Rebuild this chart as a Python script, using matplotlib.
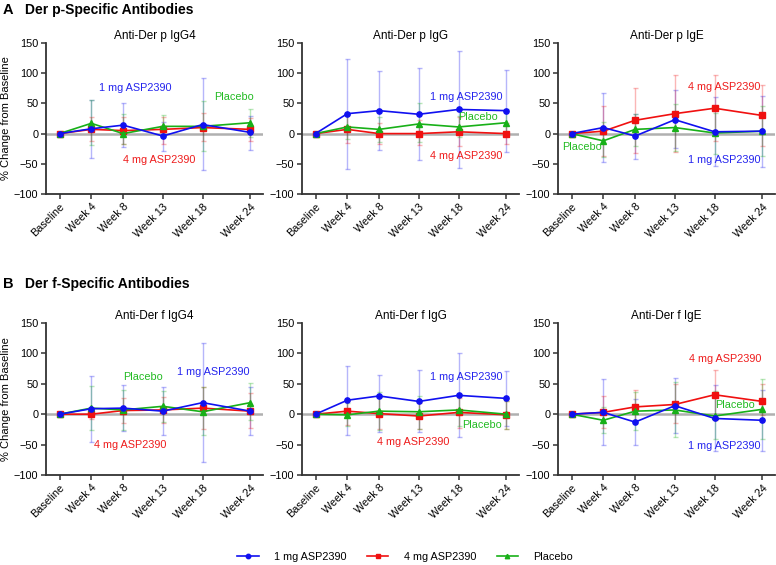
import matplotlib
matplotlib.use("Agg")
import matplotlib.pyplot as plt
import numpy as np

plt.rcParams['font.family'] = ['Liberation Sans', 'DejaVu Sans']

weeks = [0, 4, 8, 13, 18, 24]
tick_labels = ["Baseline", "Week 4", "Week 8", "Week 13", "Week 18", "Week 24"]
series_names = ["1 mg ASP2390", "4 mg ASP2390", "Placebo"]

titles = ["Anti-Der p IgG4", "Anti-Der p IgG", "Anti-Der p IgE",
          "Anti-Der f IgG4", "Anti-Der f IgG", "Anti-Der f IgE"]

# mean, upper, lower per panel (order: 1 mg, 4 mg, placebo)
p_igg4_1mg = [0, 8, 14, -4, 15, 2]
p_igg4_1mg_hi = [0, 56, 50, 19, 92, 29]
p_igg4_1mg_lo = [0, -41, -22, -28, -60, -27]
p_igg4_4mg = [0, 7, 5, 7, 10, 7]
p_igg4_4mg_hi = [0, 28, 28, 27, 34, 26]
p_igg4_4mg_lo = [0, -13, -18, -18, -13, -13]
p_igg4_pl = [0, 17, 0, 12, 12, 18]
p_igg4_pl_hi = [0, 55, 33, 30, 54, 41]
p_igg4_pl_lo = [0, -19, -17, -4, -29, -5]

p_igg_1mg = [0, 33, 38, 32, 40, 38]
p_igg_1mg_hi = [0, 124, 103, 108, 137, 106]
p_igg_1mg_lo = [0, -58, -27, -43, -57, -30]
p_igg_4mg = [0, 7, 0, 0, 3, 0]
p_igg_4mg_hi = [0, 30, 18, 22, 28, 18]
p_igg_4mg_lo = [0, -16, -18, -19, -21, -18]
p_igg_pl = [0, 11, 7, 16, 11, 18]
p_igg_pl_hi = [0, 32, 28, 50, 29, 41]
p_igg_pl_lo = [0, -9, -14, -14, -6, -4]

p_ige_1mg = [0, 10, -4, 23, 3, 4]
p_ige_1mg_hi = [0, 67, 33, 72, 60, 62]
p_ige_1mg_lo = [0, -47, -42, -24, -53, -55]
p_ige_4mg = [0, 4, 22, 33, 42, 30]
p_ige_4mg_hi = [0, 46, 76, 97, 97, 80]
p_ige_4mg_lo = [0, -37, -32, -30, -12, -20]
p_ige_pl = [0, -12, 7, 10, 1, 4]
p_ige_pl_hi = [0, 19, 33, 49, 34, 46]
p_ige_pl_lo = [0, -38, -21, -28, -33, -37]

f_igg4_1mg = [0, 9, 10, 5, 19, 5]
f_igg4_1mg_hi = [0, 63, 48, 45, 117, 45]
f_igg4_1mg_lo = [0, -46, -28, -35, -78, -34]
f_igg4_4mg = [0, 0, 6, 7, 10, 5]
f_igg4_4mg_hi = [0, 10, 27, 28, 45, 35]
f_igg4_4mg_lo = [0, -8, -15, -15, -24, -23]
f_igg4_pl = [0, 10, 7, 13, 4, 19]
f_igg4_pl_hi = [0, 47, 40, 38, 44, 51]
f_igg4_pl_lo = [0, -26, -26, -13, -34, -10]

f_igg_1mg = [0, 23, 30, 21, 31, 26]
f_igg_1mg_hi = [0, 80, 64, 73, 101, 71]
f_igg_1mg_lo = [0, -34, -30, -30, -38, -20]
f_igg_4mg = [0, 5, 1, -3, 3, -1]
f_igg_4mg_hi = [0, 21, 29, 18, 26, 22]
f_igg_4mg_lo = [0, -18, -24, -24, -22, -24]
f_igg_pl = [0, -1, 5, 4, 7, 0]
f_igg_pl_hi = [0, 19, 36, 30, 33, 22]
f_igg_pl_lo = [0, -20, -26, -25, -19, -24]

f_ige_1mg = [0, 3, -13, 14, -7, -10]
f_ige_1mg_hi = [0, 58, 25, 59, 48, 40]
f_ige_1mg_lo = [0, -50, -50, -31, -61, -61]
f_ige_4mg = [0, 3, 12, 16, 32, 21]
f_ige_4mg_hi = [0, 30, 40, 50, 73, 50]
f_ige_4mg_lo = [0, -23, -15, -15, -10, -1]
f_ige_pl = [0, -10, 5, 7, -3, 8]
f_ige_pl_hi = [0, 12, 37, 53, 38, 58]
f_ige_pl_lo = [0, -31, -26, -38, -40, -40]

panels = [
    [(p_igg4_1mg, p_igg4_1mg_hi, p_igg4_1mg_lo), (p_igg4_4mg, p_igg4_4mg_hi, p_igg4_4mg_lo), (p_igg4_pl, p_igg4_pl_hi, p_igg4_pl_lo)],
    [(p_igg_1mg, p_igg_1mg_hi, p_igg_1mg_lo), (p_igg_4mg, p_igg_4mg_hi, p_igg_4mg_lo), (p_igg_pl, p_igg_pl_hi, p_igg_pl_lo)],
    [(p_ige_1mg, p_ige_1mg_hi, p_ige_1mg_lo), (p_ige_4mg, p_ige_4mg_hi, p_ige_4mg_lo), (p_ige_pl, p_ige_pl_hi, p_ige_pl_lo)],
    [(f_igg4_1mg, f_igg4_1mg_hi, f_igg4_1mg_lo), (f_igg4_4mg, f_igg4_4mg_hi, f_igg4_4mg_lo), (f_igg4_pl, f_igg4_pl_hi, f_igg4_pl_lo)],
    [(f_igg_1mg, f_igg_1mg_hi, f_igg_1mg_lo), (f_igg_4mg, f_igg_4mg_hi, f_igg_4mg_lo), (f_igg_pl, f_igg_pl_hi, f_igg_pl_lo)],
    [(f_ige_1mg, f_ige_1mg_hi, f_ige_1mg_lo), (f_ige_4mg, f_ige_4mg_hi, f_ige_4mg_lo), (f_ige_pl, f_ige_pl_hi, f_ige_pl_lo)],
]

# label positions per panel: (x, y) for 1 mg, 4 mg, placebo
label_pos = [
    [(9.5, 76), (12.6, -44), (22, 60)],
    [(19.0, 61), (19.0, -37), (20.5, 27)],
    [(19.2, -43), (19.2, 77), (1.3, -23)],
    [(19.3, 69), (8.9, -51), (10.5, 62)],
    [(19.0, 62), (12.3, -46), (21.0, -18)],
    [(19.2, -52), (19.3, 90), (20.6, 15)],
]

line_colors = ["#1010F0", "#F01010", "#18B018"]
text_colors = ["#2424EE", "#EE1C1C", "#22BB22"]
markers = ["o", "s", "^"]
msizes = [3.8, 3.8, 3.8]

fig = plt.figure(figsize=(7.76, 5.65), dpi=100)
W, H = 776, 565
lefts = [46, 302, 558]
tops = [43, 323]
bottoms = [194, 475]
aw = 217

axes = []
for r in range(2):
    for c in range(3):
        ax = fig.add_axes([lefts[c] / W, 1 - bottoms[r] / H, aw / W, (bottoms[r] - tops[r]) / H])
        axes.append(ax)

for i, ax in enumerate(axes):
    ax.axhline(0, color="#b0b0b0", lw=1.8, zorder=1)
    for s, (mean, hi, lo) in enumerate(panels[i]):
        mean = np.array(mean, float)
        hi = np.array(hi, float)
        lo = np.array(lo, float)
        yerr = np.vstack([mean - lo, hi - mean])
        ax.errorbar(weeks[1:], mean[1:], yerr=yerr[:, 1:], fmt="none",
                    ecolor=line_colors[s], alpha=0.3, elinewidth=1.0, capsize=1.8,
                    capthick=1.0, zorder=2)
        ax.plot(weeks, mean, color=line_colors[s], lw=1.2, marker=markers[s],
                ms=msizes[s], zorder=3.5 if s == 0 else 3)
        lx, ly = label_pos[i][s]
        ax.text(lx, ly, series_names[s], color=text_colors[s],
                fontsize=7.8, ha="center", va="center")
    ax.set_xlim(-1.7, 25.6)
    ax.set_ylim(-100, 150)
    ax.set_yticks([-100, -50, 0, 50, 100, 150])
    ax.set_xticks(weeks)
    ax.set_xticklabels(tick_labels, rotation=45, ha="right", rotation_mode="anchor")
    ax.spines["top"].set_visible(False)
    ax.spines["right"].set_visible(False)
    for sp in ("left", "bottom"):
        ax.spines[sp].set_linewidth(1.3)
        ax.spines[sp].set_color("#333333")
    ax.tick_params(axis="both", labelsize=7.8, width=1.1, length=3.5, color="#333333",
                   direction="out", pad=2)
    ax.set_title(titles[i], fontsize=8.5, pad=3)
    if i % 3 == 0:
        ax.set_ylabel("% Change from Baseline", fontsize=8.0, labelpad=2)

fig.text(3 / W, 1 - 10 / H, "A", fontsize=10.5, fontweight="bold", va="center", ha="left")
fig.text(25 / W, 1 - 10 / H, "Der p-Specific Antibodies", fontsize=10, fontweight="bold",
         va="center", ha="left")
fig.text(3 / W, 1 - 284 / H, "B", fontsize=10.5, fontweight="bold", va="center", ha="left")
fig.text(25 / W, 1 - 284 / H, "Der f-Specific Antibodies", fontsize=10, fontweight="bold",
         va="center", ha="left")

handles = []
for s in range(3):
    h, = plt.plot([], [], color=line_colors[s], lw=1.2, marker=markers[s], ms=3.2)
    handles.append(h)
fig.legend(handles, series_names, loc="center", bbox_to_anchor=(405 / W, 1 - 557 / H),
           ncol=3, frameon=False, fontsize=7.8, handlelength=2.0, columnspacing=1.9,
           handletextpad=1.4)

fig.savefig("out.png", dpi=100)
